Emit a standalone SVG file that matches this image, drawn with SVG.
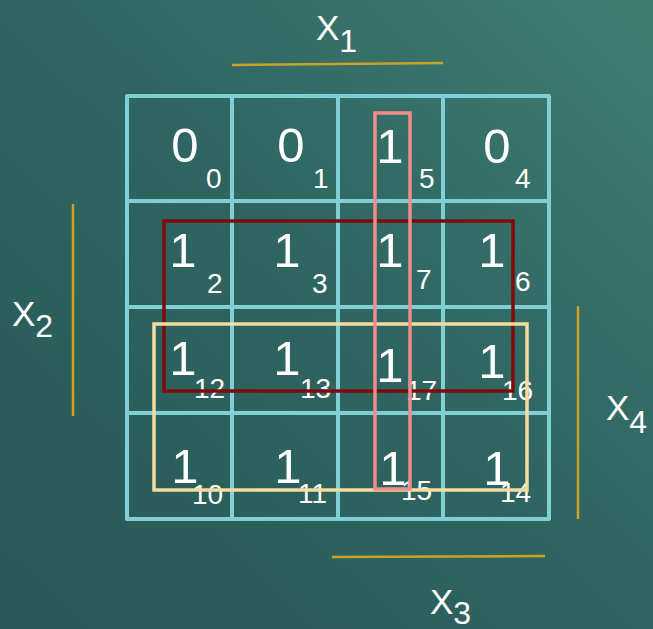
<svg xmlns="http://www.w3.org/2000/svg" width="653" height="629" viewBox="0 0 653 629">
<defs>
<linearGradient id="bg" x1="0" y1="1" x2="1" y2="0">
<stop offset="0" stop-color="#285855"/>
<stop offset="0.55" stop-color="#2f6662"/>
<stop offset="1" stop-color="#407e72"/>
</linearGradient>
</defs>
<style>
.g{fill:none;stroke:#7fcfd4;stroke-width:4;stroke-linecap:round;stroke-linejoin:round}
.ax{stroke:#c9a227;stroke-width:2.5;fill:none}
.big{font-family:"Liberation Sans",Arial,sans-serif;font-size:49px;fill:#ffffff;text-anchor:middle}
.sub{font-family:"Liberation Sans",Arial,sans-serif;font-size:28px;fill:#ffffff}
.lab{font-family:"Liberation Sans",Arial,sans-serif;font-size:35px;fill:#ffffff}
.lsub{font-family:"Liberation Sans",Arial,sans-serif;font-size:32px;fill:#ffffff}
</style>
<rect width="653" height="629" fill="url(#bg)"/>
<g id="axes">
<line class="ax" x1="232" y1="65" x2="443" y2="63"/>
<line class="ax" x1="73" y1="204" x2="73" y2="416"/>
<line class="ax" x1="578" y1="306" x2="578" y2="519"/>
<line class="ax" x1="332" y1="557" x2="545" y2="556"/>
</g>
<g id="labels">
<text class="lab" x="316" y="40">X<tspan class="lsub" dy="12">1</tspan></text>
<text class="lab" x="12" y="326">X<tspan class="lsub" dy="11">2</tspan></text>
<text class="lab" x="430" y="614">X<tspan class="lsub" dy="10">3</tspan></text>
<text class="lab" x="606" y="420">X<tspan class="lsub" dy="13">4</tspan></text>
</g>
<g id="grid">
<rect class="g" x="127" y="96" width="422" height="423"/>
<line class="g" x1="232" y1="96" x2="232" y2="519"/>
<line class="g" x1="338" y1="96" x2="338" y2="519"/>
<line class="g" x1="443" y1="96" x2="443" y2="519"/>
<line class="g" x1="127" y1="201" x2="549" y2="201"/>
<line class="g" x1="127" y1="307" x2="549" y2="307"/>
<line class="g" x1="127" y1="413" x2="549" y2="413"/>
</g>
<g id="cells">
<text class="big" x="185" y="162">0</text><text class="sub" x="206" y="188">0</text>
<text class="big" x="291" y="162">0</text><text class="sub" x="313" y="188">1</text>
<text class="big" x="390" y="163">1</text><text class="sub" x="419" y="188">5</text>
<text class="big" x="497" y="163">0</text><text class="sub" x="515" y="188">4</text>
<text class="big" x="183" y="267">1</text><text class="sub" x="207" y="293">2</text>
<text class="big" x="287" y="267">1</text><text class="sub" x="312" y="293">3</text>
<text class="big" x="390" y="267">1</text><text class="sub" x="416" y="289">7</text>
<text class="big" x="492" y="267">1</text><text class="sub" x="515" y="291">6</text>
<text class="big" x="183" y="375">1</text><text class="sub" x="194" y="398">12</text>
<text class="big" x="287" y="375">1</text><text class="sub" x="300" y="398">13</text>
<text class="big" x="390" y="382">1</text><text class="sub" x="406" y="400">17</text>
<text class="big" x="492" y="378">1</text><text class="sub" x="502" y="400">16</text>
<text class="big" x="185" y="483">1</text><text class="sub" x="192" y="504">10</text>
<text class="big" x="288" y="483">1</text><text class="sub" x="298" y="503">11</text>
<text class="big" x="393" y="485">1</text><text class="sub" x="401" y="500">15</text>
<text class="big" x="497" y="485">1</text><text class="sub" x="500" y="502">14</text>
</g>
<g id="groups">
<rect x="164" y="221" width="349" height="170" fill="none" stroke="#7e0c0c" stroke-width="3.5"/>
<rect x="154" y="324" width="373" height="166" fill="none" stroke="#f3dc9e" stroke-width="3.5"/>
<rect x="375" y="113" width="35" height="376" fill="none" stroke="#f08c8a" stroke-width="3.5"/>
</g>
</svg>
